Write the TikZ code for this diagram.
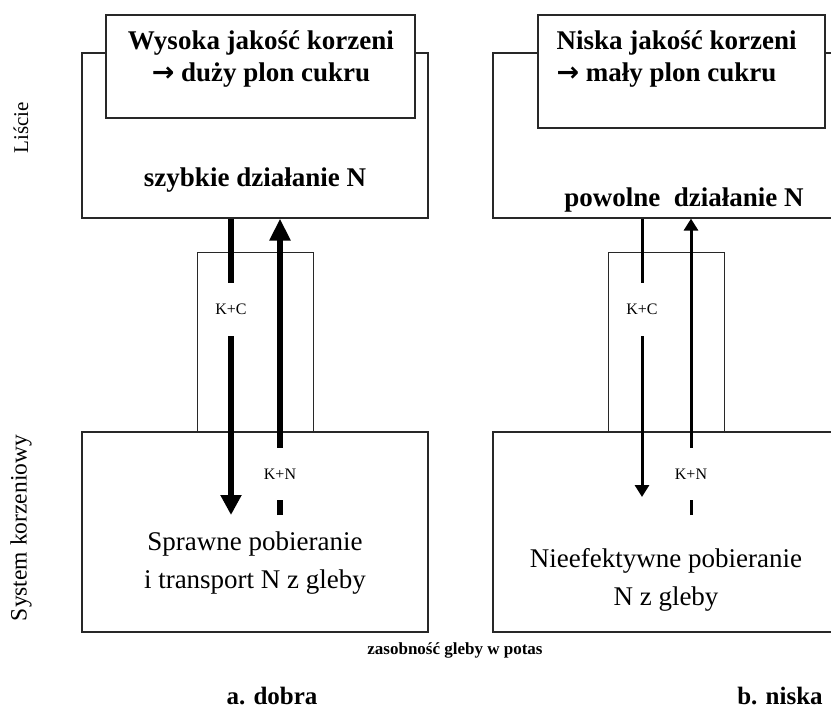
\documentclass[tikz,border=0pt]{standalone}
\usepackage{fontspec}
\setmainfont{Liberation Serif}
\newfontfamily\arrowfont{DejaVu Sans}
\usetikzlibrary{arrows.meta,positioning}
\definecolor{BoxLine}{RGB}{40,40,40}
\newcommand{\thickarrow}{{\arrowfont\bfseries →}}
\begin{document}
\begin{tikzpicture}[x=1pt,y=-1pt,box/.style={draw=BoxLine,line width=1.2pt,fill=white,inner sep=0pt},fat/.style={line width=6pt},slim/.style={line width=3pt},big/.style={font=\fontsize{27}{32}\selectfont\bfseries},plain/.style={font=\fontsize{27}{38}\selectfont,align=center},tag/.style={font=\fontsize{16}{16}\selectfont,inner sep=0pt}]
\clip (0,0) rectangle (831,709);
\node[box,minimum width=346pt,minimum height=165pt] (leafA) at (255,135.5) {};
\node[box,minimum width=352pt,minimum height=165pt] (leafB) at (669,135.5) {};
\node[box,minimum width=309pt,minimum height=103pt] (qualA) at (260.5,66.5) {};
\node[box,minimum width=287pt,minimum height=113pt] (qualB) at (681.5,71.5) {};
\node[box,line width=1pt,minimum width=116pt,minimum height=180pt] (stemA) at (255,342) {};
\node[box,line width=1pt,minimum width=116pt,minimum height=180pt] (stemB) at (666,342) {};
\node[box,minimum width=346pt,minimum height=200pt] (rootA) at (255,532) {};
\node[box,minimum width=352pt,minimum height=200pt] (rootB) at (669,532) {};
\node[big,align=center] (txtqA) at (261,59) {Wysoka jakość korzeni\\\thickarrow\ duży plon cukru};
\node[big,align=left,anchor=west] (txtqB) at (553,59) {Niska jakość korzeni\\\thickarrow\ mały plon cukru};
\node[big] (txtlA) at (255,180) {szybkie działanie N};
\node[big] (txtlB) at (684,200) {powolne\ \ działanie N};
\node[plain] (txtrA) at (255,563) {Sprawne pobieranie\\i transport N z gleby};
\node[plain] (txtrB) at (666,580) {Nieefektywne pobieranie\\N z gleby};
\node[tag,minimum height=53pt] (kcA) at (231,309.5) {K+C};
\node[tag,minimum height=52pt] (knA) at (280,474) {K+N};
\node[tag,minimum height=53pt] (kcB) at (642,309.5) {K+C};
\node[tag,minimum height=52pt] (knB) at (691,474) {K+N};
\coordinate (downA) at (231,515);
\coordinate (dashA) at (280,515);
\coordinate (downB) at (642,497);
\coordinate (dashB) at (691,515);
\draw[fat] (leafA.south -| kcA) -- (kcA);
\draw[fat,-{Triangle[length=20pt,width=20pt]}] (kcA) -- (downA);
\draw[fat] (dashA) -- (knA);
\draw[fat,-{Triangle[length=22pt,width=20pt]}] (knA) -- (knA |- leafA.south);
\draw[slim] (leafB.south -| kcB) -- (kcB);
\draw[slim,-{Triangle[length=12pt,width=14pt]}] (kcB) -- (downB);
\draw[slim] (dashB) -- (knB);
\draw[slim,-{Triangle[length=12pt,width=14pt]}] (knB) -- (knB |- leafB.south);
\node[font=\fontsize{17}{17}\selectfont\bfseries] (soil) at (455,650) {zasobność gleby w potas};
\node[font=\fontsize{25}{25}\selectfont\bfseries,inner sep=0pt] (good) at (272,696) {a. dobra};
\node[font=\fontsize{25}{25}\selectfont\bfseries,inner sep=0pt] (poor) at (780,696) {b. niska};
\node[font=\fontsize{21}{21}\selectfont,rotate=90] (leaves) at (21,128) {Liście};
\node[font=\fontsize{23.5}{23.5}\selectfont,rotate=90] (roots) at (21,528) {System korzeniowy};
\end{tikzpicture}
\end{document}
